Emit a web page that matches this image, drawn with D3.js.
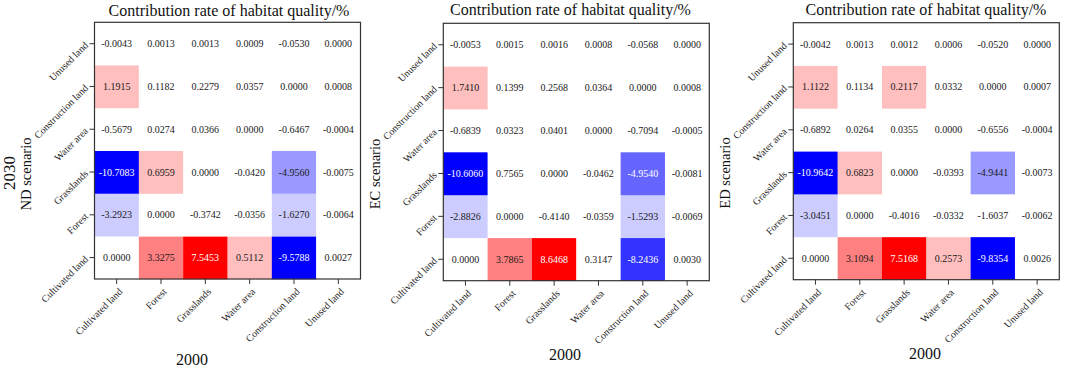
<!DOCTYPE html>
<html><head><meta charset="utf-8">
<script src="https://cdn.jsdelivr.net/npm/d3@7"></script>
<style>body{margin:0;background:#fff}svg{display:block}</style>
</head><body>
<svg id="c" width="1065" height="367"></svg>
<script>
// Categories (land-use classes), bottom-to-top on y, left-to-right on x
const categories = ["Cultivated land","Forest","Grasslands","Water area","Construction land","Unused land"];
const scenarios = ["ND scenario","EC scenario","ED scenario"];
const titleText = "Contribution rate of habitat quality/%";
const xTitle = "2000";
const yTitle = "2030";

// Values: rows = 2030 class (categories order), cols = 2000 class
const valuesND = [
  [0.0000, 3.3275, 7.5453, 0.5112, -9.5788, 0.0027],
  [-3.2923, 0.0000, -0.3742, -0.0356, -1.6270, -0.0064],
  [-10.7083, 0.6959, 0.0000, -0.0420, -4.9560, -0.0075],
  [-0.5679, 0.0274, 0.0366, 0.0000, -0.6467, -0.0004],
  [1.1915, 0.1182, 0.2279, 0.0357, 0.0000, 0.0008],
  [-0.0043, 0.0013, 0.0013, 0.0009, -0.0530, 0.0000]
];
const valuesEC = [
  [0.0000, 3.7865, 8.6468, 0.3147, -8.2436, 0.0030],
  [-2.8826, 0.0000, -0.4140, -0.0359, -1.5293, -0.0069],
  [-10.6060, 0.7565, 0.0000, -0.0462, -4.9540, -0.0081],
  [-0.6839, 0.0323, 0.0401, 0.0000, -0.7094, -0.0005],
  [1.7410, 0.1399, 0.2568, 0.0364, 0.0000, 0.0008],
  [-0.0053, 0.0015, 0.0016, 0.0008, -0.0568, 0.0000]
];
const valuesED = [
  [0.0000, 3.1094, 7.5168, 0.2573, -9.8354, 0.0026],
  [-3.0451, 0.0000, -0.4016, -0.0332, -1.6037, -0.0062],
  [-10.9642, 0.6823, 0.0000, -0.0393, -4.9441, -0.0073],
  [-0.6892, 0.0264, 0.0355, 0.0000, -0.6556, -0.0004],
  [1.1122, 0.1134, 0.2117, 0.0332, 0.0000, 0.0007],
  [-0.0042, 0.0013, 0.0012, 0.0006, -0.0520, 0.0000]
];
// Colour class of each cell as drawn in the figure (-5 = deep blue ... 0 = white ... 4 = red)
const levelsND = [
  [0, 2, 4, 1, -5, 0],
  [-1, 0, 0, 0, -1, 0],
  [-5, 1, 0, 0, -2, 0],
  [0, 0, 0, 0, 0, 0],
  [1, 0, 0, 0, 0, 0],
  [0, 0, 0, 0, 0, 0]
];
const levelsEC = [
  [0, 2, 4, 0, -4, 0],
  [-1, 0, 0, 0, -1, 0],
  [-5, 0, 0, 0, -3, 0],
  [0, 0, 0, 0, 0, 0],
  [1, 0, 0, 0, 0, 0],
  [0, 0, 0, 0, 0, 0]
];
const levelsED = [
  [0, 2, 4, 1, -5, 0],
  [-1, 0, 0, 0, 0, 0],
  [-5, 1, 0, 0, -2, 0],
  [0, 0, 0, 0, 0, 0],
  [1, 0, 1, 0, 0, 0],
  [0, 0, 0, 0, 0, 0]
];

const panelValues = [valuesND, valuesEC, valuesED];
const panelLevels = [levelsND, levelsEC, levelsED];

// Layout
const layout = [
  {left: 94.5, top: 22.3, h: 256.7, titleX: 229, titleY: 15.5, xlabX: 192, xlabY: 365, ylabX: 31, ylabY: 174, showYear: true},
  {left: 443.3, top: 23.3, h: 257.4, titleX: 570.5, titleY: 14.5, xlabX: 565, xlabY: 360, ylabX: 380, ylabY: 174, showYear: false},
  {left: 793.3, top: 22.7, h: 257, titleX: 926, titleY: 14.5, xlabX: 925, xlabY: 359, ylabX: 730, ylabY: 173, showYear: false}
];
const W = 266;
const serif = "'Liberation Serif','Times New Roman',serif";
const color = d3.scaleLinear().domain([-5, 0, 4]).range(["#0000ff", "#ffffff", "#ff0000"]);

const svg = d3.select("#c");

layout.forEach((L, p) => {
  const g = svg.append("g");
  const x = d3.scaleBand().domain(categories).range([L.left, L.left + W]);
  const y = d3.scaleBand().domain(categories).range([L.top + L.h, L.top]);
  const vals = panelValues[p], lev = panelLevels[p];
  const cells = [];
  categories.forEach((rc, i) => categories.forEach((cc, j) => cells.push({r: rc, c: cc, v: vals[i][j], l: lev[i][j]})));

  g.selectAll("rect.cell").data(cells).enter().append("rect")
    .attr("x", d => x(d.c)).attr("y", d => y(d.r))
    .attr("width", x.bandwidth() + 0.3).attr("height", y.bandwidth() + 0.3)
    .attr("fill", d => color(d.l));

  g.selectAll("text.val").data(cells).enter().append("text")
    .attr("x", d => x(d.c) + x.bandwidth() / 2)
    .attr("y", d => y(d.r) + y.bandwidth() / 2)
    .attr("text-anchor", "middle").attr("dominant-baseline", "central")
    .attr("font-family", serif).attr("font-size", 10)
    .attr("fill", d => (d.l <= -3 || d.l >= 4) ? "#ffffff" : "#1a1a1a")
    .text(d => d.v.toFixed(4));

  // frame
  g.append("rect").attr("x", L.left).attr("y", L.top).attr("width", W).attr("height", L.h)
    .attr("fill", "none").attr("stroke", "#333").attr("stroke-width", 1.2);

  // axes
  const xa = g.append("g").attr("transform", `translate(0,${L.top + L.h})`)
    .call(d3.axisBottom(x).tickSize(5).tickSizeOuter(0));
  xa.select(".domain").remove();
  xa.selectAll(".tick line").attr("stroke", "#333");
  xa.selectAll(".tick text")
    .attr("font-family", serif).attr("font-size", 10).attr("fill", "#222")
    .attr("text-anchor", "end").attr("y", 0).attr("dy", "0.75em")
    .attr("transform", "translate(1,8) rotate(-45)");

  const ya = g.append("g").attr("transform", `translate(${L.left},0)`)
    .call(d3.axisLeft(y).tickSize(5).tickSizeOuter(0));
  ya.select(".domain").remove();
  ya.selectAll(".tick line").attr("stroke", "#333");
  ya.selectAll(".tick text")
    .attr("font-family", serif).attr("font-size", 10).attr("fill", "#222")
    .attr("text-anchor", "end").attr("x", 0).attr("dy", "0.32em")
    .attr("transform", "translate(-8,0) rotate(-45)");

  // titles
  g.append("text").attr("x", L.titleX).attr("y", L.titleY).attr("text-anchor", "middle")
    .attr("font-family", serif).attr("font-size", 16).attr("fill", "#111").text(titleText);
  g.append("text").attr("x", L.xlabX).attr("y", L.xlabY).attr("text-anchor", "middle")
    .attr("font-family", serif).attr("font-size", 16).attr("fill", "#111").text(xTitle);
  g.append("text").attr("transform", `translate(${L.ylabX},${L.ylabY}) rotate(-90)`)
    .attr("text-anchor", "middle").attr("font-family", serif).attr("font-size", 14.5)
    .attr("fill", "#111").text(scenarios[p]);
  if (L.showYear) {
    g.append("text").attr("transform", `translate(15,${L.ylabY - 1}) rotate(-90)`)
      .attr("text-anchor", "middle").attr("font-family", serif).attr("font-size", 17)
      .attr("fill", "#111").text(yTitle);
  }
});
</script>
</body></html>
